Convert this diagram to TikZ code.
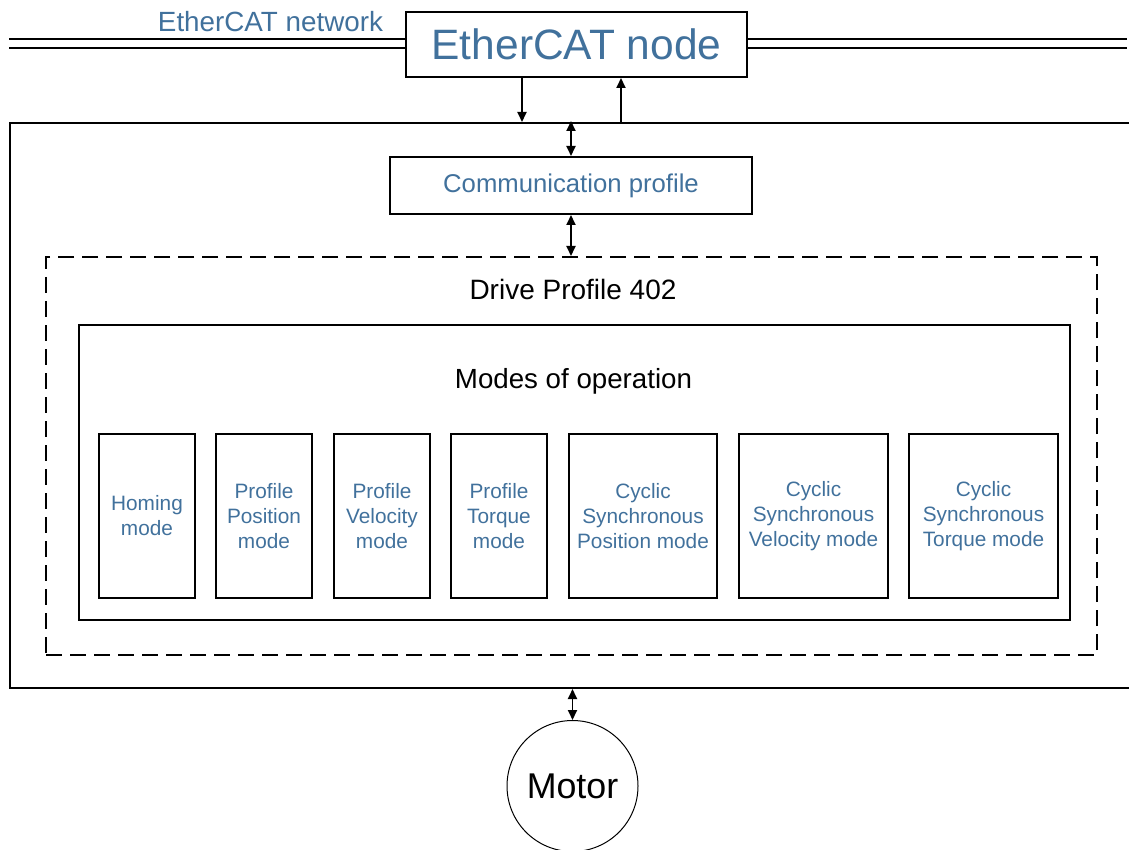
\documentclass[tikz,border=0pt]{standalone}
\usepackage{fontspec}
\setmainfont{Liberation Sans}
\usetikzlibrary{arrows.meta}
\definecolor{ecblue}{RGB}{65,113,156}
\tikzset{
  box/.style={draw=black, line width=2pt, rectangle, inner sep=0pt, align=center},
  modebox/.style={box, minimum height=164pt, text=ecblue, font=\fontsize{20.8}{25}\selectfont},
  arr/.style={line width=1.8pt, -{Triangle[length=10pt,width=9pt]}},
  darr/.style={line width=1.8pt, {Triangle[length=10pt,width=9pt]}-{Triangle[length=10pt,width=9pt]}},
  netline/.style={line width=2pt, double, double distance=7pt},
}
\begin{document}
\begin{tikzpicture}[x=1pt,y=-1pt]
\useasboundingbox (0,0) rectangle (1129,850);
% EtherCAT node
\node[box, minimum width=341pt, minimum height=65pt, text=ecblue, font=\fontsize{42.5}{46}\selectfont] (ecat) at (576.5,44.5) {EtherCAT node};
\node[text=ecblue, font=\fontsize{27.8}{31}\selectfont, inner sep=0pt] (netlabel) at (270.5,22) {EtherCAT network};
\coordinate (netL) at (9,43.5);
\coordinate (netR) at (1127,43.5);
\draw[netline] (netL) -- (netL -| ecat.west);
\draw[netline] (ecat.east |- netR) -- (netR);
% outer box (cut off at the right)
\node[box, minimum width=1130pt, minimum height=565pt] (outer) at (575,405.5) {};
% communication profile
\node[box, minimum width=362pt, minimum height=57pt, text=ecblue, font=\fontsize{25.7}{29}\selectfont] (comm) at (571,185.5) {Communication profile};
% dashed drive profile
\node[box, dash pattern=on 16pt off 8pt, minimum width=1051pt, minimum height=398pt] (drive) at (571.5,456) {};
\node[font=\fontsize{28}{32}\selectfont, inner sep=0pt] (drivelabel) at (573,289.5) {Drive Profile 402};
% modes of operation
\node[box, minimum width=991pt, minimum height=295pt] (modes) at (574.5,472.5) {};
\node[font=\fontsize{27.7}{32}\selectfont, inner sep=0pt] (modeslabel) at (573.5,381) {Modes of operation};
\node[modebox, minimum width=96pt] (m1) at (147,516) {Homing\\mode};
\node[modebox, minimum width=96pt] (m2) at (264,516) {Profile\\Position\\mode};
\node[modebox, minimum width=96pt] (m3) at (382,516) {Profile\\Velocity\\mode};
\node[modebox, minimum width=96pt] (m4) at (499,516) {Profile\\Torque\\mode};
\node[modebox, minimum width=148pt] (m5) at (643,516) {Cyclic\\Synchronous\\Position mode};
\node[modebox, minimum width=149pt] (m6) at (813.5,516) {Cyclic\\Synchronous\\Velocity mode};
\node[modebox, minimum width=149pt] (m7) at (983.5,516) {Cyclic\\Synchronous\\Torque mode};
% motor
\node[circle, draw=black, line width=1pt, minimum size=131pt, inner sep=0pt, font=\fontsize{35.8}{39}\selectfont] (motor) at (572.5,786) {Motor};
% connectors
\coordinate (dn) at (522,0);
\coordinate (up) at (621,0);
\draw[arr] (ecat.south -| dn) -- (outer.north -| dn);
\draw[arr] (outer.north -| up) -- (ecat.south -| up);
\draw[darr] ([yshift=1pt]outer.north -| comm.north) -- (comm.north);
\draw[darr] (comm.south) -- (drive.north -| comm.south);
\draw[darr] (outer.south -| motor.north) -- (motor.north);
\end{tikzpicture}
\end{document}
